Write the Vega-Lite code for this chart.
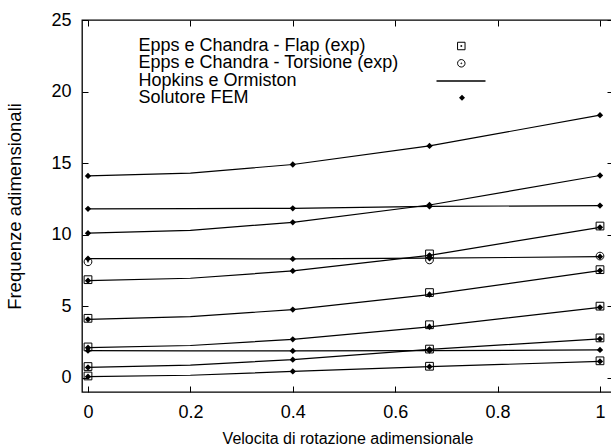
{
  "$schema": "https://vega.github.io/schema/vega-lite/v6.json",
  "width": 531,
  "height": 372,
  "autosize": {"type": "none"},
  "padding": {"left": 82, "top": 20, "right": 0, "bottom": 53},
  "background": "white",
  "config": {
    "font": "Liberation Sans",
    "view": {"stroke": "black", "strokeWidth": 1.3},
    "axis": {
      "grid": false,
      "domain": false,
      "tickColor": "black",
      "tickWidth": 1,
      "tickSize": -6,
      "labelColor": "black",
      "titleColor": "black",
      "labelFont": "Liberation Sans",
      "titleFont": "Liberation Sans",
      "labelFontSize": 18,
      "titleFontWeight": "normal"
    },
    "legend": {
      "labelFont": "Liberation Sans",
      "labelFontSize": 18,
      "labelColor": "black",
      "labelLimit": 0,
      "symbolOpacity": 1,
      "symbolStrokeColor": "black",
      "symbolStrokeWidth": 1,
      "padding": 0,
      "title": null,
      "orient": "none"
    }
  },
  "datasets": {
    "hopkins": [
      {"curve": "A", "x": 0, "y": 14.1}, {"curve": "A", "x": 0.2, "y": 14.3}, {"curve": "A", "x": 0.4, "y": 14.9}, {"curve": "A", "x": 0.667, "y": 16.2}, {"curve": "A", "x": 1, "y": 18.35},
      {"curve": "B", "x": 0, "y": 11.8}, {"curve": "B", "x": 0.2, "y": 11.82}, {"curve": "B", "x": 0.4, "y": 11.84}, {"curve": "B", "x": 0.667, "y": 11.97}, {"curve": "B", "x": 1, "y": 12.03},
      {"curve": "C", "x": 0, "y": 10.1}, {"curve": "C", "x": 0.2, "y": 10.3}, {"curve": "C", "x": 0.4, "y": 10.86}, {"curve": "C", "x": 0.667, "y": 12.07}, {"curve": "C", "x": 1, "y": 14.13},
      {"curve": "D", "x": 0, "y": 8.32}, {"curve": "D", "x": 0.2, "y": 8.32}, {"curve": "D", "x": 0.4, "y": 8.3}, {"curve": "D", "x": 0.667, "y": 8.35}, {"curve": "D", "x": 1, "y": 8.46},
      {"curve": "E", "x": 0, "y": 6.78}, {"curve": "E", "x": 0.2, "y": 6.95}, {"curve": "E", "x": 0.4, "y": 7.46}, {"curve": "E", "x": 0.667, "y": 8.55}, {"curve": "E", "x": 1, "y": 10.51},
      {"curve": "F", "x": 0, "y": 4.08}, {"curve": "F", "x": 0.2, "y": 4.27}, {"curve": "F", "x": 0.4, "y": 4.76}, {"curve": "F", "x": 0.667, "y": 5.8}, {"curve": "F", "x": 1, "y": 7.48},
      {"curve": "G", "x": 0, "y": 2.1}, {"curve": "G", "x": 0.2, "y": 2.25}, {"curve": "G", "x": 0.4, "y": 2.68}, {"curve": "G", "x": 0.667, "y": 3.55}, {"curve": "G", "x": 1, "y": 4.92},
      {"curve": "H", "x": 0, "y": 1.89}, {"curve": "H", "x": 0.2, "y": 1.88}, {"curve": "H", "x": 0.4, "y": 1.87}, {"curve": "H", "x": 0.667, "y": 1.89}, {"curve": "H", "x": 1, "y": 1.94},
      {"curve": "I", "x": 0, "y": 0.72}, {"curve": "I", "x": 0.2, "y": 0.88}, {"curve": "I", "x": 0.4, "y": 1.26}, {"curve": "I", "x": 0.667, "y": 1.98}, {"curve": "I", "x": 1, "y": 2.71},
      {"curve": "J", "x": 0, "y": 0.07}, {"curve": "J", "x": 0.2, "y": 0.17}, {"curve": "J", "x": 0.4, "y": 0.44}, {"curve": "J", "x": 0.667, "y": 0.77}, {"curve": "J", "x": 1, "y": 1.14}
    ],
    "fem": [
      {"s": "Solutore FEM", "x": 0, "y": 14.1}, {"s": "Solutore FEM", "x": 0.4, "y": 14.9}, {"s": "Solutore FEM", "x": 0.667, "y": 16.2}, {"s": "Solutore FEM", "x": 1, "y": 18.35},
      {"s": "Solutore FEM", "x": 0, "y": 11.8}, {"s": "Solutore FEM", "x": 0.4, "y": 11.84}, {"s": "Solutore FEM", "x": 0.667, "y": 11.97}, {"s": "Solutore FEM", "x": 1, "y": 12.03},
      {"s": "Solutore FEM", "x": 0, "y": 10.1}, {"s": "Solutore FEM", "x": 0.4, "y": 10.86}, {"s": "Solutore FEM", "x": 0.667, "y": 12.07}, {"s": "Solutore FEM", "x": 1, "y": 14.13},
      {"s": "Solutore FEM", "x": 0, "y": 8.32}, {"s": "Solutore FEM", "x": 0.4, "y": 8.3}, {"s": "Solutore FEM", "x": 0.667, "y": 8.35}, {"s": "Solutore FEM", "x": 1, "y": 8.46},
      {"s": "Solutore FEM", "x": 0, "y": 6.78}, {"s": "Solutore FEM", "x": 0.4, "y": 7.46}, {"s": "Solutore FEM", "x": 0.667, "y": 8.55}, {"s": "Solutore FEM", "x": 1, "y": 10.51},
      {"s": "Solutore FEM", "x": 0, "y": 4.08}, {"s": "Solutore FEM", "x": 0.4, "y": 4.76}, {"s": "Solutore FEM", "x": 0.667, "y": 5.8}, {"s": "Solutore FEM", "x": 1, "y": 7.48},
      {"s": "Solutore FEM", "x": 0, "y": 2.1}, {"s": "Solutore FEM", "x": 0.4, "y": 2.68}, {"s": "Solutore FEM", "x": 0.667, "y": 3.55}, {"s": "Solutore FEM", "x": 1, "y": 4.92},
      {"s": "Solutore FEM", "x": 0, "y": 1.89}, {"s": "Solutore FEM", "x": 0.4, "y": 1.87}, {"s": "Solutore FEM", "x": 0.667, "y": 1.89}, {"s": "Solutore FEM", "x": 1, "y": 1.94},
      {"s": "Solutore FEM", "x": 0, "y": 0.72}, {"s": "Solutore FEM", "x": 0.4, "y": 1.26}, {"s": "Solutore FEM", "x": 0.667, "y": 1.98}, {"s": "Solutore FEM", "x": 1, "y": 2.71},
      {"s": "Solutore FEM", "x": 0, "y": 0.07}, {"s": "Solutore FEM", "x": 0.4, "y": 0.44}, {"s": "Solutore FEM", "x": 0.667, "y": 0.77}, {"s": "Solutore FEM", "x": 1, "y": 1.14}
    ],
    "flap": [
      {"s": "Epps e Chandra - Flap (exp)", "x": 0, "y": 6.85}, {"s": "Epps e Chandra - Flap (exp)", "x": 0, "y": 4.15}, {"s": "Epps e Chandra - Flap (exp)", "x": 0, "y": 2.15}, {"s": "Epps e Chandra - Flap (exp)", "x": 0, "y": 0.78}, {"s": "Epps e Chandra - Flap (exp)", "x": 0, "y": 0.12},
      {"s": "Epps e Chandra - Flap (exp)", "x": 0.667, "y": 8.65}, {"s": "Epps e Chandra - Flap (exp)", "x": 0.667, "y": 5.95}, {"s": "Epps e Chandra - Flap (exp)", "x": 0.667, "y": 3.7}, {"s": "Epps e Chandra - Flap (exp)", "x": 0.667, "y": 2.0}, {"s": "Epps e Chandra - Flap (exp)", "x": 0.667, "y": 0.8},
      {"s": "Epps e Chandra - Flap (exp)", "x": 1, "y": 10.6}, {"s": "Epps e Chandra - Flap (exp)", "x": 1, "y": 7.55}, {"s": "Epps e Chandra - Flap (exp)", "x": 1, "y": 5.0}, {"s": "Epps e Chandra - Flap (exp)", "x": 1, "y": 2.78}, {"s": "Epps e Chandra - Flap (exp)", "x": 1, "y": 1.18}
    ],
    "torsion": [
      {"s": "Epps e Chandra - Torsione (exp)", "x": 0, "y": 8.1},
      {"s": "Epps e Chandra - Torsione (exp)", "x": 0.667, "y": 8.23},
      {"s": "Epps e Chandra - Torsione (exp)", "x": 1, "y": 8.5}
    ]
  },
  "resolve": {
    "axis": {"x": "independent", "y": "independent"},
    "scale": {"shape": "independent"},
    "legend": {"shape": "independent"}
  },
  "layer": [
    {
      "data": {"name": "hopkins"},
      "mark": {"type": "line", "strokeWidth": 1.2},
      "encoding": {
        "x": {
          "field": "x", "type": "quantitative",
          "scale": {"domain": [-0.0117, 1.0254], "nice": false, "zero": false},
          "axis": {"orient": "bottom", "values": [0, 0.2, 0.4, 0.6, 0.8, 1], "format": "~g", "labelPadding": 17, "title": "Velocita di rotazione adimensionale", "titleFontSize": 16, "titlePadding": 9}
        },
        "y": {
          "field": "y", "type": "quantitative",
          "scale": {"domain": [-1, 25], "nice": false, "zero": false},
          "axis": {"orient": "left", "values": [0, 5, 10, 15, 20, 25], "labelPadding": 17, "title": "Frequenze adimensionali", "titleFontSize": 18.5, "titlePadding": 26}
        },
        "detail": {"field": "curve"},
        "color": {
          "datum": "Hopkins e Ormiston", "type": "nominal",
          "scale": {"range": ["black"]},
          "legend": {"legendX": 353.5, "legendY": 35.5, "labelOffset": -348, "symbolType": "stroke", "symbolSize": 2400, "symbolStrokeWidth": 1.5}
        }
      }
    },
    {
      "data": {"name": "flap"},
      "mark": {"type": "point", "filled": false, "color": "black", "strokeWidth": 1, "opacity": 1, "size": 60},
      "encoding": {
        "x": {"field": "x", "type": "quantitative", "axis": {"orient": "top", "values": [0, 0.2, 0.4, 0.6, 0.8, 1], "labels": false, "title": null}},
        "y": {"field": "y", "type": "quantitative", "axis": {"orient": "right", "values": [0, 5, 10, 15, 20, 25], "labels": false, "title": null}},
        "shape": {
          "field": "s", "type": "nominal",
          "scale": {"range": ["M-1,-1H1V1H-1Z M-0.12,-0.12H0.12V0.12H-0.12Z"]},
          "legend": {"legendX": 370.3, "legendY": 17, "labelOffset": -331.8, "symbolSize": 56}
        }
      }
    },
    {
      "data": {"name": "torsion"},
      "mark": {"type": "point", "filled": false, "color": "black", "strokeWidth": 1, "opacity": 1, "size": 60},
      "encoding": {
        "x": {"field": "x", "type": "quantitative", "axis": null},
        "y": {"field": "y", "type": "quantitative", "axis": null},
        "shape": {
          "field": "s", "type": "nominal",
          "scale": {"range": ["M1,0A1,1,0,1,1,-1,0A1,1,0,1,1,1,0Z M0.12,0A0.12,0.12,0,1,1,-0.12,0A0.12,0.12,0,1,1,0.12,0Z"]},
          "legend": {"legendX": 370.3, "legendY": 34.3, "labelOffset": -331.8, "symbolSize": 56}
        }
      }
    },
    {
      "data": {"name": "fem"},
      "mark": {"type": "point", "filled": true, "color": "black", "opacity": 1, "size": 40},
      "encoding": {
        "x": {"field": "x", "type": "quantitative", "axis": null},
        "y": {"field": "y", "type": "quantitative", "axis": null},
        "shape": {
          "field": "s", "type": "nominal",
          "scale": {"range": ["diamond"]},
          "legend": {"legendX": 371, "legendY": 68.7, "labelOffset": -332.5, "symbolSize": 36}
        }
      }
    }
  ]
}
